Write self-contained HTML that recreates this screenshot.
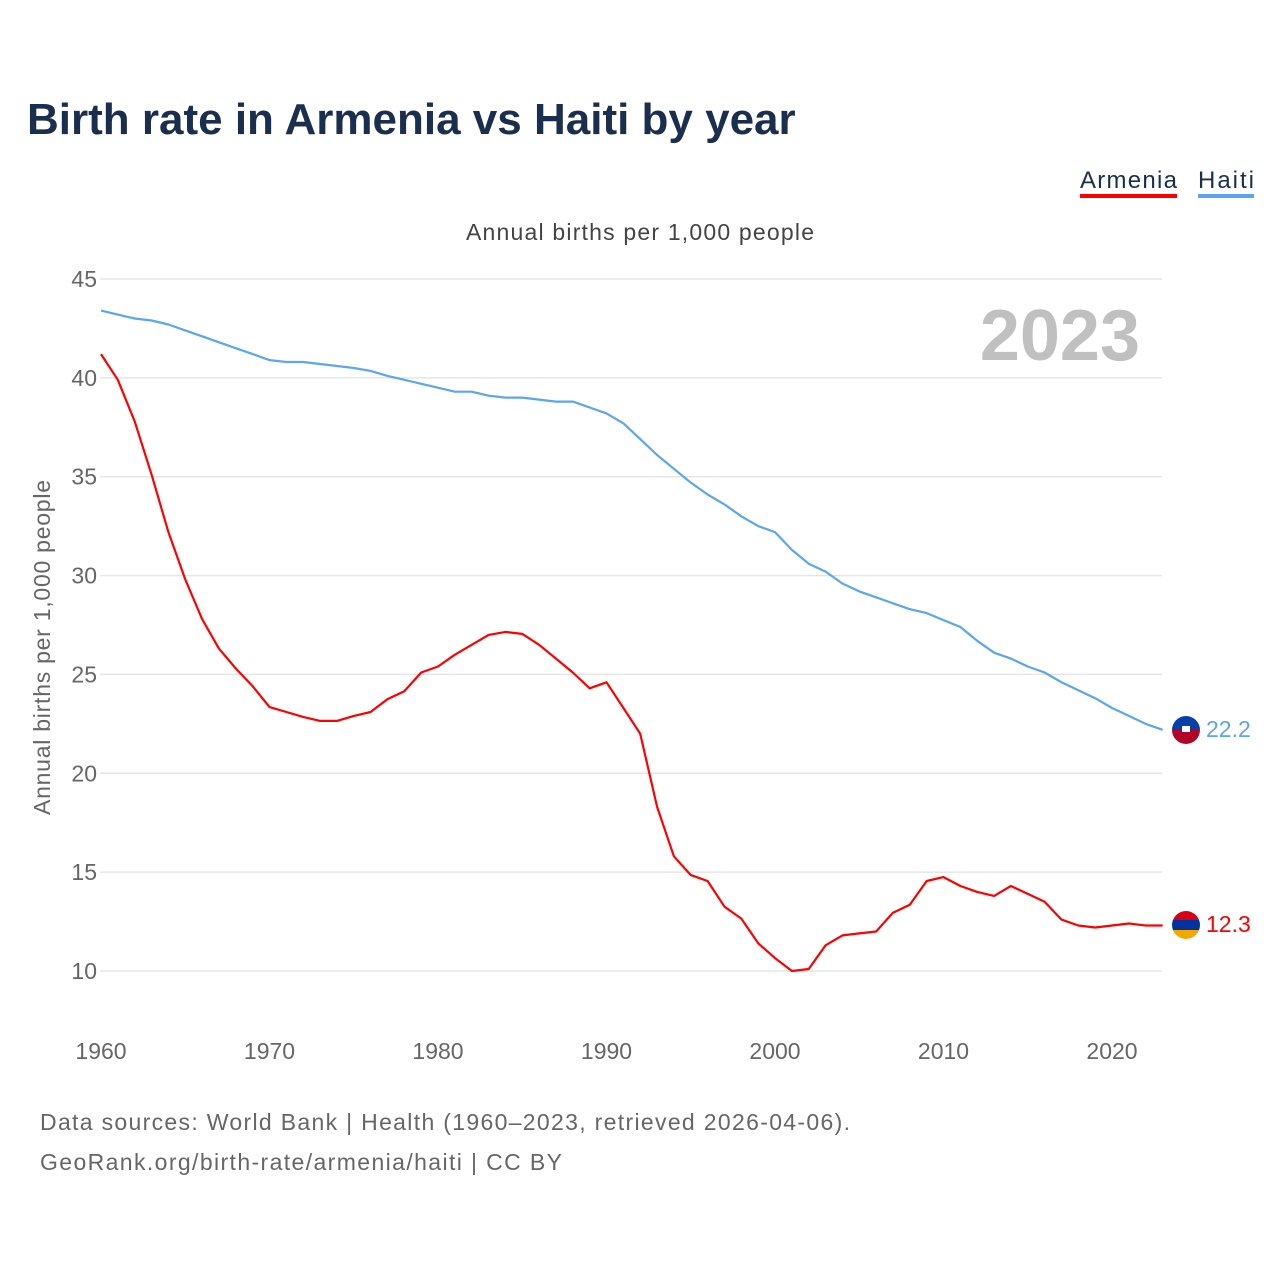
<!DOCTYPE html>
<html><head><meta charset="utf-8"><style>
body{margin:0;background:#fff;font-family:"Liberation Sans",sans-serif;}
</style></head><body>
<svg width="1280" height="1280" viewBox="0 0 1280 1280" xmlns="http://www.w3.org/2000/svg">
<defs>
<clipPath id="c1"><circle cx="1186" cy="730" r="14"/></clipPath>
<clipPath id="c2"><circle cx="1186" cy="925" r="14"/></clipPath>
</defs>
<text x="27" y="134" font-size="44" font-weight="bold" fill="#1a2e4d">Birth rate in Armenia vs Haiti by year</text>
<g>
<text x="1080" y="188" font-size="24" fill="#1a2e4d" textLength="97">Armenia</text>
<rect x="1080" y="194" width="97" height="4" fill="#ff0000"/>
<text x="1198" y="188" font-size="24" fill="#1a2e4d" textLength="56">Haiti</text>
<rect x="1198" y="194" width="56" height="4" fill="#5ba6ec"/>
</g>
<text x="466" y="240" font-size="23" fill="#444" textLength="348">Annual births per 1,000 people</text>
<text x="50" y="815" font-size="23" fill="#666" textLength="335" transform="rotate(-90 50 815)">Annual births per 1,000 people</text>
<g id="grid"></g><g id="yticks"></g><g id="xticks"></g>
<text x="1140" y="360" font-size="72" font-weight="bold" fill="#c0c0c0" text-anchor="end">2023</text>
<g id="lines"></g>
<g>
<g clip-path="url(#c1)"><rect x="1170" y="714" width="32" height="16" fill="#0a3fa8"/><rect x="1170" y="730" width="32" height="16" fill="#b0062a"/><rect x="1182" y="726" width="8" height="6" fill="#fff"/></g>
</g>
<g>
<g clip-path="url(#c2)"><rect x="1170" y="909" width="32" height="11" fill="#d90012"/><rect x="1170" y="920" width="32" height="10" fill="#0033a0"/><rect x="1170" y="930" width="32" height="12" fill="#f2a800"/></g>
</g>
<text x="1206" y="737" font-size="23" fill="#5ba6ec">22.2</text>
<text x="1206" y="932" font-size="23" fill="#ff0000">12.3</text>
<text x="40" y="1130" font-size="23" fill="#666" textLength="810">Data sources: World Bank | Health (1960–2023, retrieved 2026-04-06).</text>
<text x="40" y="1170" font-size="23" fill="#666" textLength="522">GeoRank.org/birth-rate/armenia/haiti | CC BY</text>
</svg>
<script>
const years=[];for(let y=1960;y<=2023;y++)years.push(y);
const haiti=[43.4,43.2,43.0,42.9,42.7,42.4,42.1,41.8,41.5,41.2,40.9,40.8,40.8,40.7,40.6,40.5,40.35,40.1,39.9,39.7,39.5,39.3,39.3,39.1,39.0,39.0,38.9,38.8,38.8,38.5,38.2,37.7,36.9,36.1,35.4,34.7,34.1,33.6,33.0,32.5,32.2,31.3,30.6,30.2,29.6,29.2,28.9,28.6,28.3,28.1,27.75,27.4,26.7,26.1,25.8,25.4,25.1,24.6,24.2,23.8,23.3,22.9,22.5,22.2];
const armenia=[41.2,39.9,37.8,35.1,32.2,29.8,27.8,26.3,25.3,24.4,23.35,23.1,22.85,22.65,22.65,22.9,23.1,23.75,24.15,25.1,25.4,26.0,26.5,27.0,27.15,27.05,26.5,25.8,25.1,24.3,24.6,23.3,22.0,18.3,15.8,14.85,14.55,13.25,12.65,11.4,10.65,10.0,10.1,11.3,11.8,11.9,12.0,12.95,13.35,14.55,14.75,14.3,14.0,13.8,14.3,13.9,13.5,12.6,12.3,12.2,12.3,12.4,12.3,12.3];
const yTicks=[10,15,20,25,30,35,40,45];
const xTicks=[1960,1970,1980,1990,2000,2010,2020];
const NS="http://www.w3.org/2000/svg";
const X=v=>101+(v-1960)*(1011/60);
const Y=v=>971-(v-10)*(692/35);
function mk(t,a,p){const e=document.createElementNS(NS,t);for(const k in a)e.setAttribute(k,a[k]);p.appendChild(e);return e;}
const g=document.getElementById('grid'),yt=document.getElementById('yticks'),xt=document.getElementById('xticks'),ln=document.getElementById('lines');
yTicks.forEach(v=>{
 const l=mk('line',{x1:100,x2:1162,y1:Y(v),y2:Y(v),stroke:'#e6e6e6','stroke-width':1.5},g);
 
 
 const t=mk('text',{x:97,y:Y(v)+8,'font-size':23,fill:'#666','text-anchor':'end'},yt);
 t.textContent=v;
 
 
});
xTicks.forEach(v=>{
 const t=mk('text',{x:X(v),y:1059,'font-size':23,fill:'#666','text-anchor':'middle'},xt);
 t.textContent=v;
 
 
});
function line(d,c,n){
 const p=mk('path',{d:d.map((v,i)=>(i?'L':'M')+X(years[i]).toFixed(1)+','+Y(v).toFixed(1)).join(''),fill:'none',stroke:c,'stroke-width':2.2,'stroke-linejoin':'round'},ln);
 
 
}
line(haiti,'#5ba6ec','haiti-line');
line(armenia,'#ff0000','armenia-line');
</script>
</body></html>
